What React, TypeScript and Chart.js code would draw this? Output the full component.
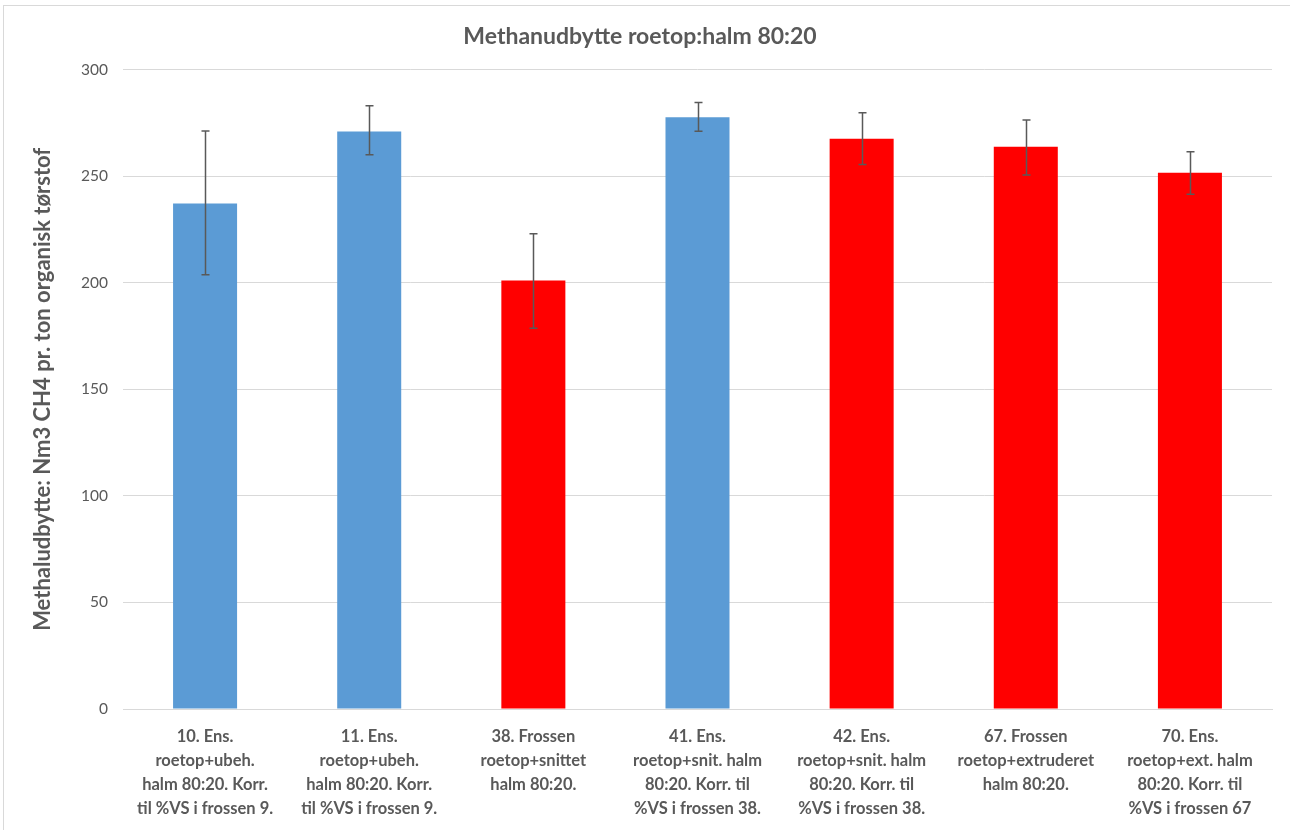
import React, { useEffect, useRef } from "react";
import { Chart, registerables } from "chart.js";

Chart.register(...registerables);

const chartTitle = "Methanudbytte roetop:halm 80:20";
const yAxisTitle = "Methaludbytte: Nm3 CH4 pr. ton organisk tørstof";

const categories: string[][] = [
  ["10. Ens.", "roetop+ubeh.", "halm 80:20. Korr.", "til %VS i frossen 9."],
  ["11. Ens.", "roetop+ubeh.", "halm 80:20. Korr.", "til %VS i frossen 9."],
  ["38. Frossen", "roetop+snittet", "halm 80:20."],
  ["41. Ens.", "roetop+snit. halm", "80:20. Korr. til", "%VS i frossen 38."],
  ["42. Ens.", "roetop+snit. halm", "80:20. Korr. til", "%VS i frossen 38."],
  ["67. Frossen", "roetop+extruderet", "halm 80:20."],
  ["70. Ens.", "roetop+ext. halm", "80:20. Korr. til", "%VS i frossen 67"],
];

const values = [237.2, 271, 201, 277.6, 267.6, 263.8, 251.6];
const errorPlus = [34, 12, 22, 7, 12.2, 12.6, 9.8];
const errorMinus = [33.5, 11, 22.3, 6.5, 12.1, 13.2, 10.1];
const barColors = ["#5B9BD5", "#5B9BD5", "#FF0000", "#5B9BD5", "#FF0000", "#FF0000", "#FF0000"];

const yTicks = [0, 50, 100, 150, 200, 250, 300];

const textColor = "#595959";
const gridColor = "#d9d9d9";
const fontFamily = "Lato, 'Open Sans', sans-serif";

const bgPlugin = {
  id: "bgPlugin",
  beforeDraw(chart: any) {
    const ctx = chart.ctx;
    ctx.save();
    ctx.fillStyle = "#ffffff";
    ctx.fillRect(0, 0, chart.width, chart.height);
    ctx.strokeStyle = "#d9d9d9";
    ctx.lineWidth = 1;
    ctx.strokeRect(3.5, 5.5, chart.width + 10, chart.height + 10);
    ctx.restore();
  },
};

const errorBarPlugin = {
  id: "errorBarPlugin",
  afterDatasetsDraw(chart: any) {
    const ctx = chart.ctx;
    const meta = chart.getDatasetMeta(0);
    const yScale = chart.scales.y;
    ctx.save();
    ctx.strokeStyle = "#595959";
    ctx.lineWidth = 1.5;
    meta.data.forEach((bar: any, i: number) => {
      const x = Math.round(bar.x) + 0.5;
      const top = yScale.getPixelForValue(values[i] + errorPlus[i]);
      const bot = yScale.getPixelForValue(values[i] - errorMinus[i]);
      ctx.beginPath();
      ctx.moveTo(x, top);
      ctx.lineTo(x, bot);
      ctx.moveTo(x - 4, top);
      ctx.lineTo(x + 4, top);
      ctx.moveTo(x - 4, bot);
      ctx.lineTo(x + 4, bot);
      ctx.stroke();
    });
    ctx.restore();
  },
};

export default function App() {
  const ref = useRef<HTMLCanvasElement | null>(null);
  useEffect(() => {
    if (!ref.current) return;
    const chart = new Chart(ref.current, {
      type: "bar",
      data: {
        labels: categories,
        datasets: [
          {
            data: values,
            backgroundColor: barColors,
            borderWidth: 0,
            barPercentage: 0.39,
            categoryPercentage: 1,
          },
        ],
      },
      options: {
        animation: false,
        responsive: false,
        maintainAspectRatio: false,
        layout: { padding: { left: 8, right: 18, top: 0, bottom: 0 } },
        plugins: {
          legend: { display: false },
          tooltip: { enabled: false },
          title: {
            display: true,
            text: chartTitle,
            color: textColor,
            font: { family: fontFamily, size: 23, weight: "bold", lineHeight: 1.2 },
            padding: { top: 23, bottom: 19 },
          },
        },
        scales: {
          x: {
            grid: { display: false, drawTicks: false },
            border: { display: true, color: gridColor, width: 1 },
            ticks: {
              color: textColor,
              font: { family: fontFamily, size: 16.5, weight: "bold", lineHeight: 1.45 },
              maxRotation: 0,
              minRotation: 0,
              autoSkip: false,
              padding: 16,
            },
            afterFit(s: any) {
              s.height = 121;
            },
          },
          y: {
            min: 0,
            max: 300,
            afterBuildTicks(s: any) {
              s.ticks = yTicks.map((v) => ({ value: v }));
            },
            grid: { color: gridColor, lineWidth: 1, drawTicks: false },
            border: { display: false },
            ticks: {
              color: textColor,
              font: { family: fontFamily, size: 15.5 },
              padding: 15,
            },
            title: {
              display: true,
              text: yAxisTitle,
              color: textColor,
              font: { family: fontFamily, size: 22, weight: "bold", lineHeight: 1.2 },
              padding: { top: 22, bottom: 0 },
            },
            afterFit(s: any) {
              s.width = 115;
            },
          },
        },
      },
      plugins: [bgPlugin, errorBarPlugin],
    });
    return () => chart.destroy();
  }, []);
  return (
    <div style={{ position: "fixed", left: 0, top: 0, width: 1290, height: 830, background: "#fff" }}>
      <canvas ref={ref} width={1290} height={830} style={{ width: 1290, height: 830, display: "block" }} />
    </div>
  );
}
